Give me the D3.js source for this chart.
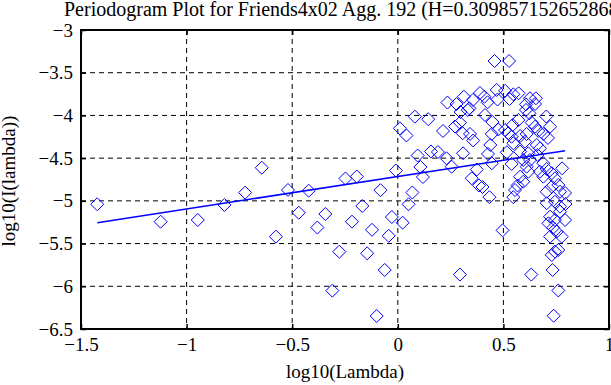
<!DOCTYPE html>
<html>
<head>
<meta charset="utf-8">
<script src="https://cdn.jsdelivr.net/npm/d3@7"></script>
<style>
  body { margin: 0; background: #fff; }
  svg { display: block; }
  text { font-family: "Liberation Serif", "DejaVu Serif", serif; }
</style>
</head>
<body>
<div id="chart"></div>
<script>
var svgWidth = 611;
var svgHeight = 385;

var margin = { top: 30, right: 2, bottom: 56, left: 81 };
var chartWidth = svgWidth - margin.left - margin.right;
var chartHeight = svgHeight - margin.top - margin.bottom;

var titleText = "Periodogram Plot for Friends4x02 Agg. 192 (H=0.309857152652868)";
var xLabel = "log10(Lambda)";
var yLabel = "log10(I(lambda))";

// tick values
var xTicks = [-1.5, -1, -0.5, 0, 0.5, 1];
var yTicks = [-6.5, -6, -5.5, -5, -4.5, -4, -3.5, -3];

// periodogram points: log10(lambda) and log10(I(lambda))
var logLambda = [
  -1.423, -1.123, -0.947, -0.821, -0.723, -0.644, -0.577, -0.520, -0.469, -0.422,
  -0.381, -0.343, -0.310, -0.277, -0.248, -0.194, -0.217, -0.168, -0.145, -0.122,
  -0.100, -0.062, -0.082, -0.043, -0.028, -0.009, 0.023, 0.051, 0.069, 0.010,
  0.041, 0.081, 0.144, 0.094, 0.107, 0.119, 0.157, 0.190, 0.214, 0.231,
  0.255, 0.271, 0.297, 0.294, 0.331, 0.307, 0.342, 0.357, 0.309, 0.374,
  0.350, 0.384, 0.401, 0.434, 0.427, 0.438, 0.445, 0.448, 0.445, 0.476,
  0.508, 0.523, 0.413, 0.544, 0.571, 0.547, 0.539, 0.579, 0.602, 0.610,
  0.634, 0.650, 0.665, 0.689, 0.658, 0.673, 0.703, 0.721, 0.711, 0.516,
  0.539, 0.579, 0.594, 0.618, 0.626, 0.661, 0.689, 0.673, 0.705, 0.729,
  0.778, 0.744, 0.760, 0.689, 0.579, 0.594, 0.567, 0.555, 0.547, 0.618,
  0.610, 0.705, 0.729, 0.768, 0.792, 0.705, 0.744, 0.768, 0.794, 0.721,
  0.744, 0.768, 0.792, 0.713, 0.736, 0.752, 0.776, 0.721, 0.744, 0.729,
  0.760, 0.733, 0.760, 0.738, 0.496, 0.294, 0.632, 0.458, 0.527,
  0.235, 0.278, 0.313, 0.339, 0.356, 0.389, 0.410, 0.425, 0.468, 0.472,
  0.508, 0.529, 0.547, 0.572, 0.607, 0.626, 0.650, 0.654, 0.607, 0.623
];
var logPower = [
  -5.040, -5.244, -5.224, -5.048, -4.904, -4.612, -5.419, -4.873, -5.139, -4.881,
  -5.312, -5.154, -6.051, -5.595, -4.738, -4.715, -5.244, -5.060, -5.614, -5.339,
  -6.348, -5.809, -4.875, -5.409, -5.189, -4.645, -5.256, -5.040, -4.902, -4.151,
  -4.235, -4.015, -4.044, -4.469, -4.604, -4.721, -4.422, -4.428, -4.182, -4.502,
  -4.600, -4.130, -3.960, -4.085, -3.936, -4.209, -4.217, -4.293, -4.443, -4.633,
  -4.736, -4.820, -4.838, -4.957, -4.451, -4.346, -4.560, -4.077, -4.217, -4.165,
  -4.171, -4.209, -3.995, -4.112, -4.053, -4.326, -4.249, -4.241, -4.307, -4.217,
  -4.083, -4.132, -4.182, -4.217, -4.346, -4.385, -4.012, -4.132, -4.264, -4.432,
  -4.568, -4.424, -4.522, -4.443, -4.522, -4.463, -4.560, -4.659, -4.627, -4.677,
  -4.619, -4.736, -4.814, -4.717, -4.717, -4.776, -4.820, -4.873, -4.957, -4.659,
  -4.600, -4.893, -4.834, -4.893, -4.908, -5.028, -5.010, -5.068, -5.037, -5.185,
  -5.224, -5.127, -5.224, -5.263, -5.314, -5.361, -5.419, -5.419, -5.595, -5.634,
  -5.575, -5.809, -6.049, -6.345, -5.345, -5.863, -5.863, -3.363, -3.363,
  -3.849, -3.866, -3.781, -3.917, -3.819, -3.737, -3.781, -3.846, -3.702, -3.814,
  -3.712, -3.808, -3.753, -3.741, -3.870, -3.799, -3.866, -3.799, -3.936, -3.975
];

// least squares fit line end points
var fitX = [-1.423, 0.792];
var fitY = [-5.256, -4.413];

var points = logLambda.map(function (d, i) { return { x: d, y: logPower[i] }; });

var svg = d3.select("#chart")
  .append("svg")
  .attr("width", svgWidth)
  .attr("height", svgHeight);

var chartGroup = svg.append("g")
  .attr("transform", `translate(${margin.left}, ${margin.top})`);

var xScale = d3.scaleLinear().domain([-1.5, 1]).range([0, chartWidth]);
var yScale = d3.scaleLinear().domain([-6.5, -3]).range([chartHeight, 0]);

// dashed grid
chartGroup.append("g").selectAll("line")
  .data(xTicks.slice(1, -1))
  .enter().append("line")
  .attr("x1", d => xScale(d)).attr("x2", d => xScale(d))
  .attr("y1", 0).attr("y2", chartHeight)
  .attr("stroke", "#000").attr("stroke-width", 1)
  .attr("stroke-dasharray", "5,4");

chartGroup.append("g").selectAll("line")
  .data(yTicks.slice(1, -1))
  .enter().append("line")
  .attr("x1", 0).attr("x2", chartWidth)
  .attr("y1", d => yScale(d)).attr("y2", d => yScale(d))
  .attr("stroke", "#000").attr("stroke-width", 1)
  .attr("stroke-dasharray", "5,4");

// points (diamonds)
var diamond = "M0,-6.5L6.5,0L0,6.5L-6.5,0Z";
chartGroup.append("g").selectAll("path")
  .data(points)
  .enter().append("path")
  .attr("d", diamond)
  .attr("transform", d => `translate(${xScale(d.x)}, ${yScale(d.y)})`)
  .attr("fill", "none")
  .attr("stroke", "#0000ff")
  .attr("stroke-width", 1);

// fit line
var line = d3.line().x(d => xScale(d[0])).y(d => yScale(d[1]));
chartGroup.append("path")
  .datum(fitX.map((d, i) => [d, fitY[i]]))
  .attr("d", line)
  .attr("fill", "none")
  .attr("stroke", "#0000ff")
  .attr("stroke-width", 1.6);

// axes with inward ticks
function styleAxis(g) {
  g.select(".domain").remove();
  g.selectAll(".tick line").attr("stroke", "#000").attr("stroke-width", 1.5);
  g.selectAll("text")
    .attr("fill", "#000")
    .style("font-family", '"Liberation Serif", serif')
    .style("font-size", "19px");
}

var fmt = d3.format("");

chartGroup.append("g")
  .attr("transform", `translate(0, ${chartHeight})`)
  .call(d3.axisBottom(xScale).tickValues(xTicks).tickFormat(fmt).tickSize(-5).tickSizeOuter(0).tickPadding(9))
  .call(styleAxis);

chartGroup.append("g")
  .call(d3.axisLeft(yScale).tickValues(yTicks).tickFormat(fmt).tickSize(-5).tickSizeOuter(0).tickPadding(8))
  .call(styleAxis);

chartGroup.append("g")
  .call(d3.axisTop(xScale).tickValues(xTicks).tickFormat("").tickSize(-5).tickSizeOuter(0))
  .call(styleAxis);

chartGroup.append("g")
  .attr("transform", `translate(${chartWidth}, 0)`)
  .call(d3.axisRight(yScale).tickValues(yTicks).tickFormat("").tickSize(-5).tickSizeOuter(0))
  .call(styleAxis);

// box
chartGroup.append("rect")
  .attr("x", 0).attr("y", 0)
  .attr("width", chartWidth).attr("height", chartHeight)
  .attr("fill", "none")
  .attr("stroke", "#000")
  .attr("stroke-width", 2);

// title (runs past the right edge, as in the original figure)
svg.append("text")
  .attr("x", 64)
  .attr("y", 16)
  .attr("font-size", "20px")
  .attr("fill", "#000")
  .text(titleText);

// x label
chartGroup.append("text")
  .attr("x", chartWidth / 2)
  .attr("y", chartHeight + 49)
  .attr("text-anchor", "middle")
  .attr("font-size", "19px")
  .text(xLabel);

// y label
svg.append("text")
  .attr("transform", "rotate(-90)")
  .attr("x", -181)
  .attr("y", 15)
  .attr("text-anchor", "middle")
  .attr("font-size", "19px")
  .text(yLabel);
</script>
</body>
</html>
